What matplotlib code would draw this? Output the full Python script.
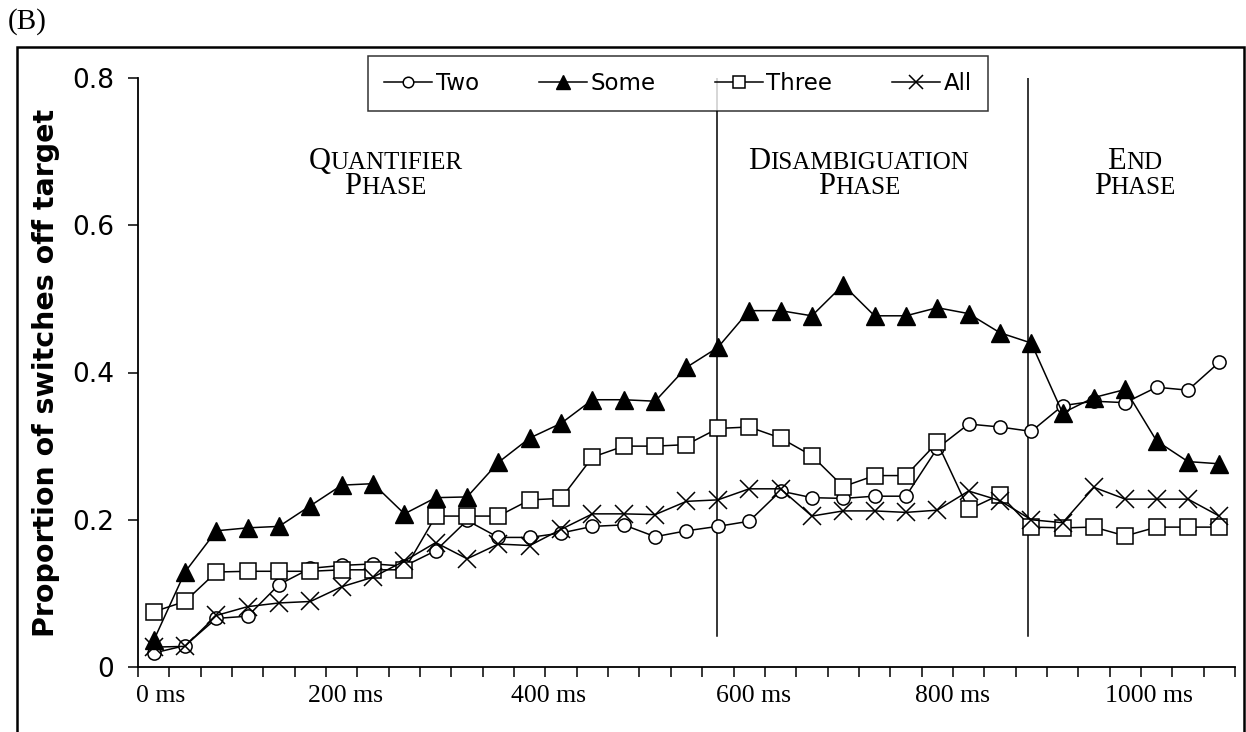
import matplotlib
matplotlib.use('Agg')
import matplotlib.pyplot as plt
from matplotlib.patches import Rectangle
from matplotlib.offsetbox import TextArea, HPacker, VPacker, AnnotationBbox

# time bins (category index, one every ~31 ms)
bins = list(range(35))

two = [0.019, 0.029, 0.066, 0.069, 0.112, 0.134, 0.138, 0.140, 0.137, 0.158,
       0.199, 0.176, 0.176, 0.182, 0.191, 0.193, 0.177, 0.185, 0.191, 0.198,
       0.239, 0.230, 0.229, 0.232, 0.232, 0.297, 0.330, 0.326, 0.320, 0.355,
       0.361, 0.359, 0.380, 0.376, 0.414]
some = [0.036, 0.129, 0.185, 0.189, 0.191, 0.219, 0.247, 0.249, 0.208, 0.230,
        0.231, 0.278, 0.311, 0.331, 0.363, 0.363, 0.361, 0.407, 0.434, 0.484,
        0.484, 0.477, 0.519, 0.477, 0.477, 0.488, 0.480, 0.454, 0.440, 0.345,
        0.366, 0.377, 0.307, 0.279, 0.276]
three = [0.075, 0.089, 0.129, 0.130, 0.130, 0.130, 0.132, 0.132, 0.132, 0.205,
         0.205, 0.205, 0.227, 0.229, 0.285, 0.300, 0.300, 0.302, 0.324, 0.326,
         0.311, 0.287, 0.245, 0.260, 0.260, 0.305, 0.214, 0.234, 0.190, 0.189,
         0.190, 0.178, 0.190, 0.190, 0.190]
all_ = [0.027, 0.028, 0.070, 0.082, 0.087, 0.089, 0.109, 0.122, 0.144, 0.169,
        0.147, 0.167, 0.165, 0.187, 0.208, 0.208, 0.207, 0.225, 0.227, 0.242,
        0.242, 0.205, 0.212, 0.212, 0.210, 0.213, 0.239, 0.226, 0.200, 0.196,
        0.244, 0.228, 0.228, 0.228, 0.205]

time_labels = ['0 ms', '200 ms', '400 ms', '600 ms', '800 ms', '1000 ms']
time_label_pos = [0.22, 6.12, 12.6, 19.14, 25.49, 31.77]

phase_bounds = [17.97, 27.9]
phase_names = [('Quantifier', 'Phase'), ('Disambiguation', 'Phase'), ('End', 'Phase')]
phase_pos = [7.4, 22.5, 31.3]

fig = plt.figure(figsize=(12.46, 7.32), dpi=100)
ax = fig.add_axes([138/1246, 65/732, 1097/1246, 589/732])

lw = 1.1
ax.plot(bins, two, '-o', color='black', lw=lw, ms=9.5, mfc='white', mec='black', mew=1.1, label='Two', zorder=3)
ax.plot(bins, some, '-^', color='black', lw=lw, ms=13, mfc='black', mec='black', label='Some', zorder=3)
ax.plot(bins, three, '-s', color='black', lw=lw, ms=11, mfc='white', mec='black', mew=1.1, label='Three', zorder=3)
ax.plot(bins, all_, '-x', color='black', lw=lw, ms=13, mew=1.1, label='All', zorder=3)

for b in phase_bounds:
    ax.axvline(b, ymin=0.042/0.8, ymax=1, color='black', lw=1.1, zorder=1)

ax.set_xlim(-0.5, 34.5)
ax.set_ylim(0, 0.8)
for s in ['top', 'right']:
    ax.spines[s].set_visible(False)
ax.spines['left'].set_linewidth(1.3)
ax.spines['bottom'].set_linewidth(1.3)

ax.set_yticks([0, 0.2, 0.4, 0.6, 0.8])
ax.set_yticklabels(['0', '0.2', '0.4', '0.6', '0.8'], fontsize=19, family='DejaVu Sans')
ax.tick_params(axis='y', direction='out', length=7, width=1.1, pad=10)

ax.set_xticks([b - 0.5 for b in bins] + [34.5])
ax.set_xticklabels([])
ax.tick_params(axis='x', which='major', direction='out', length=7, width=1.1)
ax.set_xticks(time_label_pos, minor=True)
ax.set_xticklabels(time_labels, minor=True, fontsize=18.5, family='Liberation Serif')
ax.tick_params(axis='x', which='minor', length=0, pad=13)

ax.set_ylabel('Proportion of switches off target', fontsize=20.5, fontweight='bold', family='DejaVu Sans')
ax.yaxis.set_label_coords(-78/1097, 0.5)

for (w1, w2), xp in zip(phase_names, phase_pos):
    lines = []
    for w in (w1, w2):
        lines.append(HPacker(children=[
            TextArea(w[0].upper(), textprops=dict(fontsize=22, family='Liberation Serif')),
            TextArea(w[1:].upper(), textprops=dict(fontsize=18, family='Liberation Serif'))],
            align='baseline', pad=0, sep=0))
    box = VPacker(children=lines, align='center', pad=0, sep=-3)
    ab = AnnotationBbox(box, (xp, 0.67), xycoords='data', frameon=False, box_alignment=(0.5, 0.5))
    ax.add_artist(ab)

leg = ax.legend(loc='upper center', bbox_to_anchor=(678/1246, 1 - 56/732),
                bbox_transform=fig.transFigure, ncol=4, frameon=True, fancybox=False,
                edgecolor='black', fontsize=16.5, handlelength=2.1, handletextpad=0.15,
                columnspacing=2.6, markerscale=0.8, borderpad=0.7, borderaxespad=0)
leg.get_frame().set_linewidth(1.1)
leg.set_zorder(5)

fig.patches.append(Rectangle((17/1246, -0.1), 1227/1246, 0.1 + 1 - 47/732, transform=fig.transFigure,
                             fill=False, edgecolor='black', lw=1.8))
fig.text(8/1246, 1 - 8/732, '(B)', fontsize=21, family='Liberation Serif', va='top', ha='left')

fig.savefig('out.png', dpi=100)
